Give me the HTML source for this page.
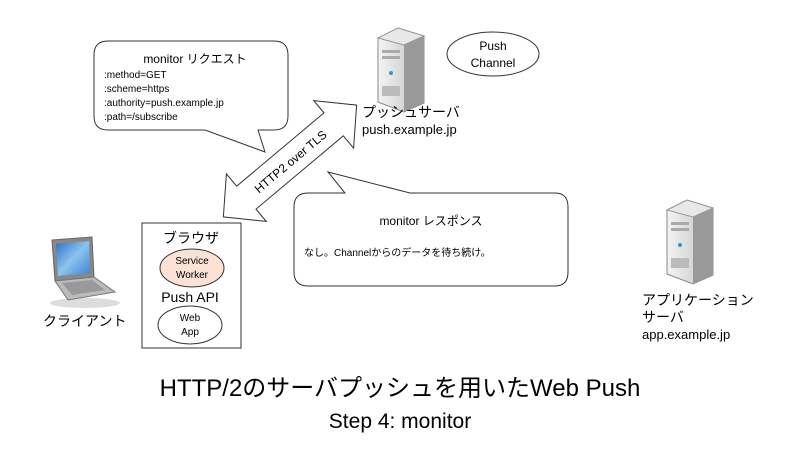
<!DOCTYPE html>
<html><head><meta charset="utf-8"><style>
body{margin:0;background:#fff}
text{font-family:"Liberation Sans","Noto Sans CJK JP",sans-serif;fill:#000}
</style></head><body>
<svg width="800" height="450" viewBox="0 0 800 450" xmlns="http://www.w3.org/2000/svg">
<defs>
<linearGradient id="srv" x1="0" x2="1"><stop offset="0" stop-color="#f4f4f4"/><stop offset="1" stop-color="#bfbfbf"/></linearGradient>
<linearGradient id="scr" x1="0" y1="0" x2="1" y2="1"><stop offset="0" stop-color="#2a6fc0"/><stop offset="0.5" stop-color="#8cc4f0"/><stop offset="1" stop-color="#3a82d0"/></linearGradient>
</defs>
<!-- request bubble -->
<path d="M108,41 H274 Q288,41 288,55 V116 Q288,130 274,130 H258 L265,152 L205,130 H108 Q94,130 94,116 V55 Q94,41 108,41 Z" fill="#fff" stroke="#333" stroke-width="1"/>
<text x="195" y="63" font-size="12" text-anchor="middle">monitor リクエスト</text>
<text x="104" y="78" font-size="10">:method=GET</text>
<text x="104" y="92" font-size="10">:scheme=https</text>
<text x="104" y="106" font-size="10">:authority=push.example.jp</text>
<text x="104" y="120" font-size="10">:path=/subscribe</text>
<!-- response bubble -->
<path d="M308,193 H345 L328,172 L410,193 H555 Q568,193 568,207 V272 Q568,286 555,286 H308 Q294,286 294,272 V207 Q294,193 308,193 Z" fill="#fff" stroke="#333" stroke-width="1"/>
<text x="431" y="225" font-size="12" text-anchor="middle">monitor レスポンス</text>
<text x="304" y="256" font-size="10">なし。Channelからのデータを待ち続け。</text>
<!-- double arrow -->
<g transform="translate(290,161) rotate(-40)">
<path d="M-87,0 L-57,-31 L-57,-15 L57,-15 L57,-31 L87,0 L57,31 L57,15 L-57,15 L-57,31 Z" fill="#fff" stroke="#333" stroke-width="1"/>
<text x="0" y="5" font-size="12" text-anchor="middle">HTTP2 over TLS</text>
</g>
<!-- push server -->
<g transform="translate(378,28)">
<path d="M0,10 L20,0 L46,8 L46,75 L26,84 L0,74 Z" fill="url(#srv)" stroke="#888"/>
<path d="M0,10 L20,0 L46,8 L26,17 Z" fill="#e8e8e8" stroke="#999"/>
<path d="M26,17 L46,8 L46,75 L26,84 Z" fill="#999"/>
<rect x="4" y="22" width="18" height="3" fill="#aaa"/><rect x="4" y="28" width="18" height="3" fill="#aaa"/>
<circle cx="13" cy="45" r="2" fill="#39c"/>
<rect x="4" y="58" width="18" height="10" fill="#bbb"/>
</g>
<ellipse cx="493" cy="54" rx="46" ry="22" fill="#fff" stroke="#333"/>
<text x="493" y="50" font-size="12" text-anchor="middle">Push</text>
<text x="493" y="67" font-size="12" text-anchor="middle">Channel</text>
<text x="362" y="117" font-size="14">プッシュサーバ</text>
<text x="362" y="134" font-size="13">push.example.jp</text>
<!-- app server -->
<g transform="translate(667,200)">
<path d="M0,10 L20,0 L46,8 L46,75 L26,84 L0,74 Z" fill="url(#srv)" stroke="#888"/>
<path d="M0,10 L20,0 L46,8 L26,17 Z" fill="#e8e8e8" stroke="#999"/>
<path d="M26,17 L46,8 L46,75 L26,84 Z" fill="#999"/>
<rect x="4" y="22" width="18" height="3" fill="#aaa"/><rect x="4" y="28" width="18" height="3" fill="#aaa"/>
<circle cx="13" cy="45" r="2" fill="#39c"/>
<rect x="4" y="58" width="18" height="10" fill="#bbb"/>
</g>
<text x="642" y="305" font-size="14">アプリケーション</text>
<text x="642" y="322" font-size="14">サーバ</text>
<text x="642" y="339" font-size="13">app.example.jp</text>
<!-- laptop -->
<g>
<ellipse cx="85" cy="303" rx="35" ry="5" fill="#ddd"/>
<path d="M52,240 L92,237 L94,277 L55,281 Z" fill="#888" stroke="#666"/>
<path d="M56,244 L89,241 L90,273 L58,276 Z" fill="url(#scr)"/>
<path d="M55,281 L94,277 L115,292 L68,300 Z" fill="#bbb" stroke="#777"/>
<path d="M62,283 L92,280 L105,290 L72,295 Z" fill="#999"/>
</g>
<text x="43" y="326" font-size="14">クライアント</text>
<!-- browser -->
<rect x="142" y="223" width="99" height="125" fill="#fff" stroke="#333"/>
<text x="191" y="243" font-size="14" text-anchor="middle">ブラウザ</text>
<ellipse cx="192" cy="268" rx="32" ry="19" fill="#fbe2d5" stroke="#333"/>
<text x="192" y="264" font-size="10" text-anchor="middle">Service</text>
<text x="192" y="278" font-size="10" text-anchor="middle">Worker</text>
<text x="190" y="302" font-size="14" text-anchor="middle">Push API</text>
<ellipse cx="190" cy="325" rx="32" ry="19" fill="#fff" stroke="#333"/>
<text x="190" y="321" font-size="10" text-anchor="middle">Web</text>
<text x="190" y="335" font-size="10" text-anchor="middle">App</text>
<!-- title -->
<text x="400" y="396" font-size="24" text-anchor="middle">HTTP/2のサーバプッシュを用いたWeb Push</text>
<text x="400" y="428" font-size="21" text-anchor="middle">Step 4: monitor</text>
</svg>
</body></html>
